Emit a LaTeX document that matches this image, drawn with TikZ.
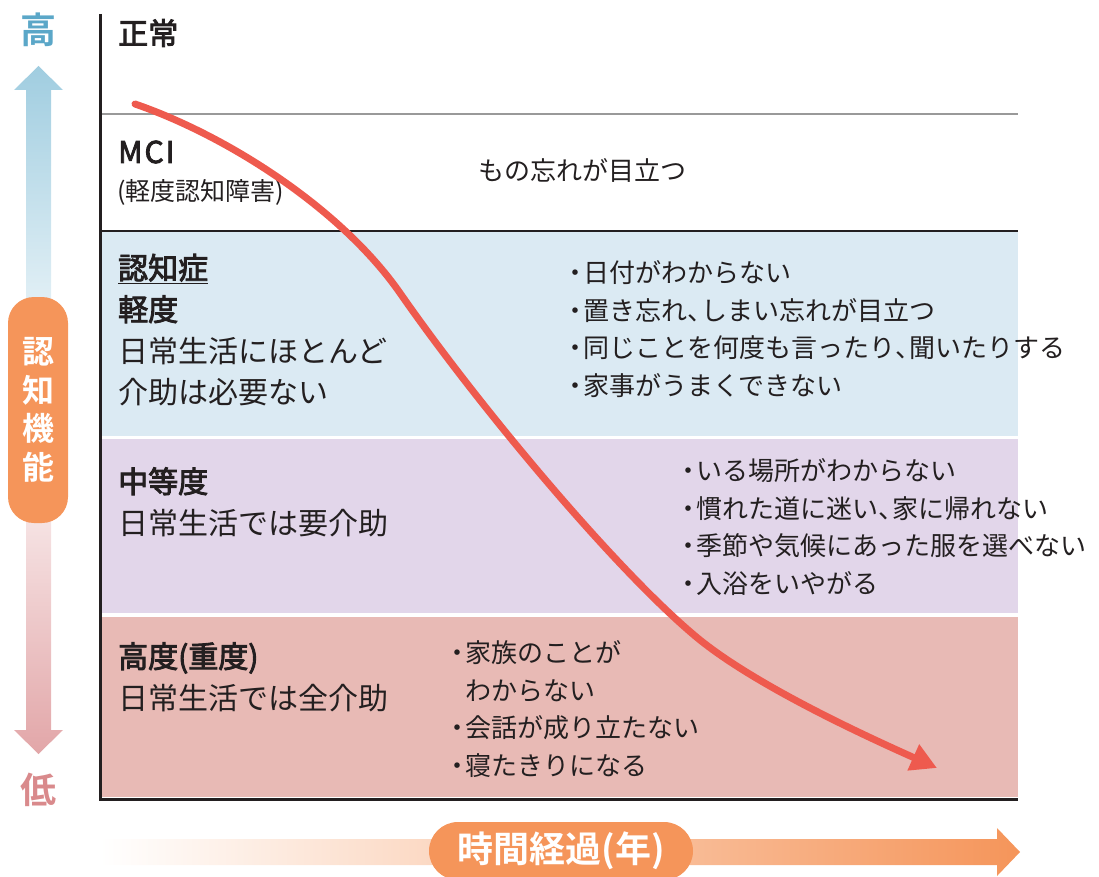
\documentclass[tikz,border=0pt]{standalone}
\usepackage{fontspec}
\setmainfont{Noto Sans CJK JP}[BoldFont={Noto Sans CJK JP}, BoldFeatures={FakeBold=3}]
\newfontfamily\heavy{Noto Sans CJK JP Bold}
\usetikzlibrary{arrows.meta}

\definecolor{ink}{HTML}{231F20}
\definecolor{bandblue}{HTML}{DBEAF3}
\definecolor{bandlilac}{HTML}{E2D6EA}
\definecolor{bandrose}{HTML}{E8BAB5}
\definecolor{curvered}{HTML}{EE5A4E}
\definecolor{boxorange}{HTML}{F5955A}
\definecolor{highblue}{HTML}{5BA7C8}
\definecolor{arrowblue}{HTML}{A0CDE0}
\definecolor{lowpink}{HTML}{D98A8C}
\definecolor{arrowpink}{HTML}{E2A6A8}

\newcommand\bdot{\makebox[15pt]{・}}
\newcommand\tenn{\makebox[14pt][l]{、}}

\begin{document}
\begin{tikzpicture}[x=1pt, y=-1pt, text=ink]
    \tikzstyle{every node} = [inner sep=0pt]
    \tikzstyle{head} = [anchor=west, align=left, font=\fontsize{30}{41.5}\selectfont]
    \tikzstyle{list} = [anchor=west, align=left, font=\fontsize{26}{37.5}\selectfont]
    \tikzstyle{pill} = [fill=boxorange, text=white]

    \useasboundingbox (0,0) rectangle (1099,877);

    \fill[bandblue] (101,232) rectangle (1018,436);
    \fill[bandlilac] (101,439) rectangle (1018,613);
    \fill[bandrose] (101,617) rectangle (1018,797);
    \draw[black!40, line width=1.2] (101,114) -- (1018,114);
    \draw[ink, line width=2.5] (100,231) -- (1018,231);
    \draw[ink, line width=3] (100,14) -- (100,799) -- (1018,799);

    \shade[top color=arrowblue, bottom color=arrowpink, middle color=white]
        (38.5,66) -- (63,90) -- (51,90) -- (51,730) -- (63,730) -- (38.5,754)
        -- (14,730) -- (26,730) -- (26,90) -- (14,90) -- cycle;
    \shade[left color=white, right color=boxorange]
        (100,839) -- (997,839) -- (997,828) -- (1020,852) -- (997,876)
        -- (997,865) -- (100,865) -- cycle;

    \node (hi) at (38,30) [text=highblue, font=\fontsize{36}{40}\selectfont\heavy] {高};
    \node (lo) at (38,790) [text=lowpink, font=\fontsize{36}{40}\selectfont\heavy] {低};
    \node (v) at (38,410) [pill, rounded corners=26, minimum width=60, minimum height=226,
        align=center, font=\fontsize{32}{38.5}\selectfont\heavy] {認\\知\\機\\能};
    \node (t) at (561,851) [pill, rounded corners=29, minimum width=264, minimum height=58,
        font=\fontsize{36}{40}\selectfont\heavy] {時間経過(年)};

    \node (a) at (118,33) [head, font=\fontsize{30}{41.5}\selectfont\bfseries] {正常};
    \node (b) at (118,152) [head, font=\fontsize{30}{41.5}\selectfont\bfseries] {M\kern2pt C\kern2pt I};
    \node (b2) at (117,192) [head, font=\fontsize{25}{30}\selectfont] {(軽度認知障害)};
    \node (c) at (118,330) [head] {\textbf{\underline{認知症}}\\\textbf{軽度}\\日常生活にほとんど\\介助は必要ない};
    \node (d) at (118,502) [head] {\textbf{中等度}\\日常生活では要介助};
    \node (e) at (118,677) [head] {\textbf{高度(重度)}\\日常生活では全介助};

    \node (f) at (478,170) [list] {もの忘れが目立つ};
    \node (g) at (568,329) [list] {\bdot 日付がわからない\\\bdot 置き忘れ\tenn しまい忘れが目立つ\\\bdot 同じことを何度も言ったり\tenn 聞いたりする\\\bdot 家事がうまくできない};
    \node (h) at (681,527) [list] {\bdot いる場所がわからない\\\bdot 慣れた道に迷い\tenn 家に帰れない\\\bdot 季節や気候にあった服を選べない\\\bdot 入浴をいやがる};
    \node (k) at (450,709) [list] {\bdot 家族のことが\\\hspace*{15pt}わからない\\\bdot 会話が成り立たない\\\bdot 寝たきりになる};

    \coordinate (s) at (135,104);
    \coordinate (p) at (400,293);
    \coordinate (q) at (700,640);
    \coordinate (z) at (937,768);
    \draw [curvered, line width=7, line cap=round, -{Triangle[length=26pt, width=27pt]}]
        (s) .. controls (225,135) and (340,207) .. (p)
            .. controls (480,408) and (620,575) .. (q)
            .. controls (760,688) and (870,738) .. (z);
\end{tikzpicture}
\end{document}
